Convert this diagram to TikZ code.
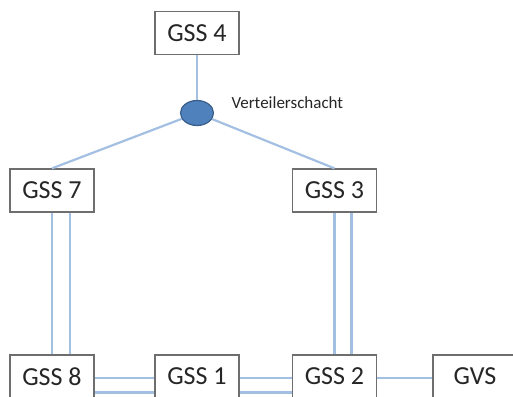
\documentclass[tikz,border=0pt]{standalone}
\usepackage{fontspec}
\setmainfont{Carlito}
\usetikzlibrary{shapes.geometric}

\definecolor{linkblue}{HTML}{A3C0E3}
\definecolor{shaftfill}{HTML}{4F81BD}
\definecolor{shaftedge}{HTML}{385D8A}
\definecolor{boxedge}{HTML}{6E6E6E}
\definecolor{labeltext}{HTML}{262626}

\tikzset{
  station/.style={draw=boxedge,line width=1.3pt,fill=white,minimum width=84pt,minimum height=43pt,inner sep=0pt,text=labeltext,font=\fontsize{26}{28}\selectfont},
  shaft/.style={ellipse,draw=shaftedge,line width=1.2pt,fill=shaftfill,minimum width=33pt,minimum height=25pt,inner sep=0pt},
  link/.style={draw=linkblue,line width=2.2pt}
}

\begin{document}
\begin{tikzpicture}[x=1pt,y=-1pt]
\useasboundingbox (0,0) rectangle (513,396);
\clip (0,0) rectangle (513,396);
% stations
\node[station] (g4) at (197,33) {GSS 4};
\node[station] (g7) at (52,190.5) {GSS 7};
\node[station] (g3) at (334.5,190.5) {GSS 3};
\node[station] (g8) at (52,376.5) {GSS 8};
\node[station] (g1) at (197,376.5) {GSS 1};
\node[station] (g2) at (334.5,376.5) {GSS 2};
\node[station] (gvs) at (475,376.5) {GVS};
% distribution shaft
\node[shaft] (vs) at (197,113) {};
\node[anchor=west,text=labeltext,font=\fontsize{17}{19}\selectfont] (vslabel) at (228,103) {Verteilerschacht};
% connections
\draw[link] (g4) -- (vs);
\draw[link] (vs) -- (g7.north);
\draw[link] (vs) -- (g3.north);
\draw[link] (g7.south) -- (g8.north);
\draw[link] ([xshift=18pt]g7.south) -- ([xshift=18pt]g8.north);
\draw[link] (g3.south) -- (g2.north);
\draw[link] ([xshift=17pt]g3.south) -- ([xshift=17pt]g2.north);
\draw[link] ([yshift=-1.5pt]g8.east) -- ([yshift=-1.5pt]g1.west);
\draw[link] ([yshift=-16pt]g8.east) -- ([yshift=-16pt]g1.west);
\draw[link] ([yshift=-1.5pt]g1.east) -- ([yshift=-1.5pt]g2.west);
\draw[link] ([yshift=-16pt]g1.east) -- ([yshift=-16pt]g2.west);
\draw[link] ([yshift=-1.5pt]g2.east) -- ([yshift=-1.5pt]gvs.west);
\end{tikzpicture}
\end{document}
